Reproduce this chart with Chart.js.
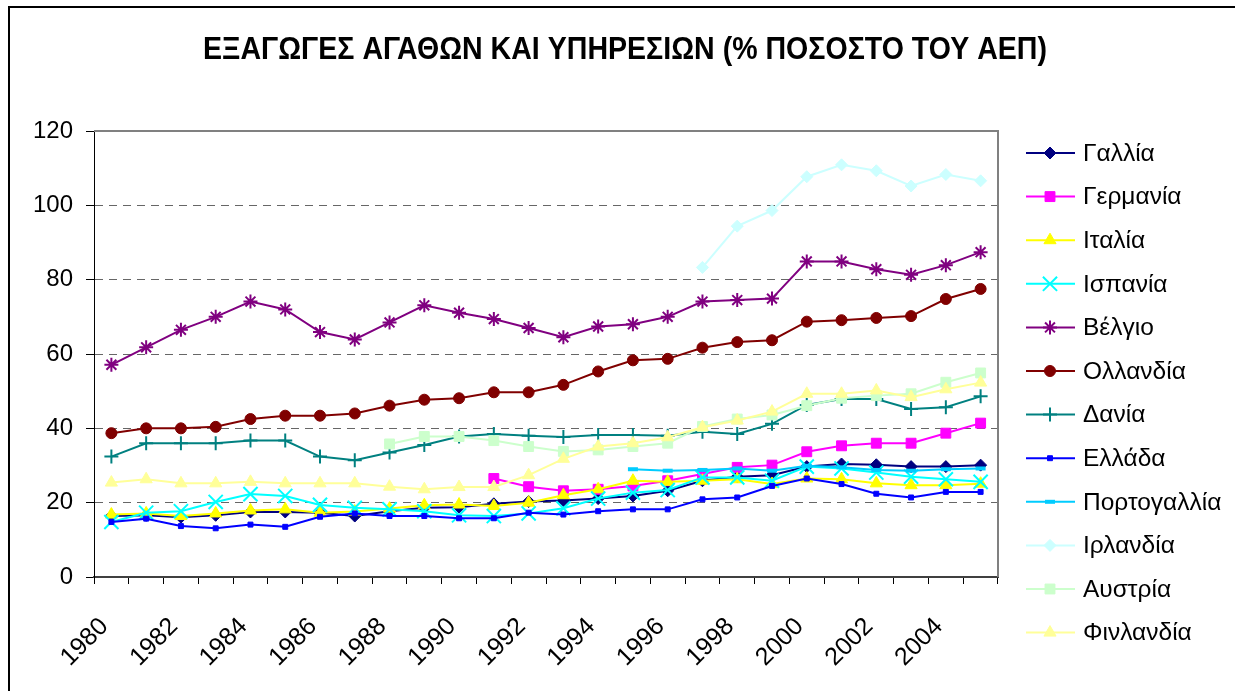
<!DOCTYPE html>
<html>
<head>
<meta charset="utf-8">
<script src="https://cdn.jsdelivr.net/npm/chart.js@4"></script>
<style>
  body { margin: 0; background: #fff; }
  canvas { display: block; }
</style>
</head>
<body>
<canvas id="myChart" width="1235" height="691"></canvas>
<script>
const years = ['1980', '1981', '1982', '1983', '1984', '1985', '1986', '1987', '1988', '1989',
  '1990', '1991', '1992', '1993', '1994', '1995', '1996', '1997', '1998', '1999',
  '2000', '2001', '2002', '2003', '2004', '2005'];

const yTicks = [0, 20, 40, 60, 80, 100, 120];

const france = [16.4, 16.6, 16.1, 16.6, 17.5, 17.5, 17.3, 16.4, 17.7, 18.6, 18.8, 19.7, 20.3, 20.6, 21.1, 21.8, 23.2, 25.9, 27.0, 27.4, 29.7, 30.4, 30.2, 29.7, 29.7, 30.1];
const germany = [null, null, null, null, null, null, null, null, null, null, null, 26.5, 24.3, 23.2, 23.6, 24.5, 25.9, 27.7, 29.5, 30.1, 33.7, 35.3, 36.0, 36.0, 38.7, 41.4];
const italy = [16.8, 17.1, 16.4, 17.1, 17.9, 18.2, 17.3, 17.6, 18.4, 19.3, 19.5, 19.1, 20.0, 22.0, 23.6, 25.9, 25.6, 25.9, 26.3, 25.0, 26.5, 26.3, 25.2, 24.7, 24.7, 25.1];
const spain = [14.8, 17.3, 17.7, 20.2, 22.3, 21.8, 19.4, 18.6, 18.2, 17.7, 16.6, 16.4, 17.1, 18.5, 21.1, 22.7, 23.4, 26.8, 26.8, 25.9, 29.7, 29.2, 28.1, 27.0, 26.3, 25.6];
const belgium = [57.1, 61.8, 66.5, 70.0, 74.1, 72.0, 65.9, 63.9, 68.5, 73.1, 71.1, 69.4, 67.0, 64.5, 67.4, 68.0, 70.0, 74.1, 74.5, 74.9, 84.9, 84.9, 82.8, 81.3, 83.9, 87.4];
const netherlands = [38.7, 40.0, 40.0, 40.4, 42.5, 43.4, 43.4, 44.0, 46.1, 47.7, 48.1, 49.7, 49.7, 51.7, 55.3, 58.3, 58.7, 61.7, 63.2, 63.7, 68.7, 69.1, 69.7, 70.2, 74.8, 77.5];
const denmark = [32.4, 36.0, 36.0, 36.0, 36.7, 36.7, 32.4, 31.4, 33.5, 35.5, 37.8, 38.5, 38.0, 37.7, 38.2, 38.2, 38.0, 39.1, 38.5, 41.2, 46.3, 47.9, 47.9, 45.2, 45.7, 48.6];
const greece = [14.8, 15.7, 13.7, 13.1, 14.1, 13.5, 16.2, 17.1, 16.4, 16.4, 15.8, 15.8, 17.3, 16.8, 17.7, 18.2, 18.2, 20.9, 21.4, 24.5, 26.5, 25.0, 22.4, 21.4, 22.9, 22.9];
const portugal = [null, null, null, null, null, null, null, null, null, null, null, null, null, null, null, 29.0, 28.6, 28.8, 29.2, 28.6, 29.9, 29.5, 28.8, 28.6, 29.0, 29.2];
const ireland = [null, null, null, null, null, null, null, null, null, null, null, null, null, null, null, null, null, 83.3, 94.4, 98.6, 107.7, 110.9, 109.3, 105.2, 108.3, 106.6];
const austria = [null, null, null, null, null, null, null, null, 35.8, 37.8, 37.8, 36.7, 35.1, 33.8, 34.2, 35.1, 36.0, 40.5, 42.5, 43.6, 46.1, 48.1, 48.8, 49.3, 52.4, 54.9];
const finland = [25.4, 26.3, 25.2, 25.2, 25.6, 25.2, 25.2, 25.2, 24.3, 23.6, 24.2, 24.2, 27.4, 31.8, 35.1, 36.0, 37.6, 40.3, 42.1, 44.5, 49.3, 49.3, 50.2, 48.4, 50.5, 52.3];

const FONT = "'Liberation Sans', Arial, sans-serif";

// label, values, colour, marker, radius, marker border width
const series = [
  ['Γαλλία', france, '#000080', 'rectRot', 6, 1],
  ['Γερμανία', germany, '#FF00FF', 'rect', 7, 1],
  ['Ιταλία', italy, '#FFFF00', 'triangle', 7, 1],
  ['Ισπανία', spain, '#00FFFF', 'crossRot', 10, 2],
  ['Βέλγιο', belgium, '#800080', 'star', 7, 2],
  ['Ολλανδία', netherlands, '#800000', 'circle', 5.5, 1],
  ['Δανία', denmark, '#008080', 'cross', 7, 2],
  ['Ελλάδα', greece, '#0000FF', 'rect', 3.5, 1],
  ['Πορτογαλλία', portugal, '#00CCFF', 'line', 5, 4],
  ['Ιρλανδία', ireland, '#CCFFFF', 'rectRot', 6, 1],
  ['Αυστρία', austria, '#CCFFCC', 'rect', 7, 1],
  ['Φινλανδία', finland, '#FFFF99', 'triangle', 7, 1]
];

const datasets = series.map((s, i) => ({
  label: s[0],
  data: s[1],
  borderColor: s[2],
  backgroundColor: s[2],
  borderWidth: 2,
  pointStyle: s[3],
  pointRadius: s[4],
  pointBorderWidth: s[5],
  pointBackgroundColor: s[2],
  pointBorderColor: s[2],
  tension: 0,
  order: series.length - i
}));

const frame = {
  id: 'frame',
  beforeDraw(chart) {
    const c = chart.ctx;
    c.save();
    c.fillStyle = '#fff';
    c.fillRect(0, 0, chart.width, chart.height);
    c.restore();
  },
  beforeDatasetsDraw(chart) {
    const c = chart.ctx;
    const a = chart.chartArea;
    c.save();
    c.strokeStyle = '#808080';
    c.lineWidth = 2;
    c.beginPath();
    c.moveTo(a.left, a.top);
    c.lineTo(a.right, a.top);
    c.lineTo(a.right, a.bottom);
    c.stroke();
    c.restore();
  },
  afterDraw(chart) {
    const c = chart.ctx;
    c.save();
    // outer border
    c.strokeStyle = '#000';
    c.lineWidth = 2;
    c.beginPath();
    c.moveTo(9, chart.height + 5);
    c.lineTo(9, 7);
    c.lineTo(chart.width + 5, 7);
    c.stroke();

    // title, squeezed like the original
    const title = 'ΕΞΑΓΩΓΕΣ ΑΓΑΘΩΝ ΚΑΙ ΥΠΗΡΕΣΙΩΝ (% ΠΟΣΟΣΤΟ ΤΟΥ ΑΕΠ)';
    c.font = 'bold 31px ' + FONT;
    c.fillStyle = '#000';
    c.textAlign = 'center';
    c.textBaseline = 'alphabetic';
    const w = c.measureText(title).width;
    c.translate(625, 59);
    c.scale(844 / w, 1);
    c.fillText(title, 0, 0);
    c.restore();

    // legend
    c.save();
    c.font = '24.5px ' + FONT;
    c.textAlign = 'left';
    c.textBaseline = 'middle';
    chart.data.datasets.forEach((ds, i) => {
      const y = 153 + i * 43.6;
      c.strokeStyle = ds.borderColor;
      c.lineWidth = 2;
      c.beginPath();
      c.moveTo(1026, y);
      c.lineTo(1075, y);
      c.stroke();
      c.fillStyle = ds.pointBackgroundColor;
      c.strokeStyle = ds.pointBorderColor;
      c.lineWidth = ds.pointBorderWidth;
      Chart.helpers.drawPoint(c, {
        pointStyle: ds.pointStyle,
        radius: ds.pointRadius,
        borderWidth: ds.pointBorderWidth,
        rotation: 0
      }, 1050, y);
      c.fillStyle = '#000';
      c.fillText(ds.label, 1083, y + 1);
    });
    c.restore();
  }
};

const ctx = document.getElementById('myChart').getContext('2d');

new Chart(ctx, {
  type: 'line',
  data: {
    labels: years,
    datasets: datasets
  },
  options: {
    responsive: false,
    animation: false,
    events: [],
    layout: {
      padding: { top: 131, right: 237, bottom: 0, left: 0 }
    },
    scales: {
      x: {
        offset: true,
        grid: {
          offset: true,
          drawOnChartArea: false,
          tickLength: 7,
          color: '#000',
          tickBorderDash: []
        },
        border: { color: '#404040', width: 2 },
        ticks: {
          autoSkip: false,
          minRotation: 45,
          maxRotation: 45,
          padding: 28,
          labelOffset: -7,
          color: '#000',
          font: { family: FONT, size: 25 },
          callback: (v, i) => (i % 2 === 0 ? years[i] : '')
        },
        afterFit: (scale) => { scale.height = 114; }
      },
      y: {
        min: 0,
        max: 120,
        afterBuildTicks: (scale) => { scale.ticks = yTicks.map(v => ({ value: v })); },
        grid: {
          color: '#666',
          tickColor: '#000',
          tickLength: 8,
          tickBorderDash: []
        },
        border: { color: '#000', width: 1, dash: [8, 6] },
        ticks: {
          padding: 13,
          color: '#000',
          font: { family: FONT, size: 24 }
        },
        afterFit: (scale) => { scale.width = 94; }
      }
    },
    plugins: {
      legend: { display: false },
      tooltip: { enabled: false },
      title: { display: false }
    }
  },
  plugins: [frame]
});
</script>
</body>
</html>
